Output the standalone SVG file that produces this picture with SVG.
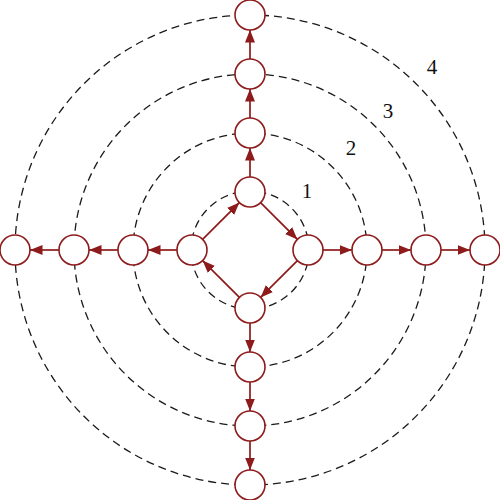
<svg xmlns="http://www.w3.org/2000/svg" width="500" height="500" viewBox="0 0 500 500">
<style>
.ring{fill:none;stroke:#1a1a1a;stroke-width:1.3;stroke-dasharray:8,5}
.node{fill:#fff;stroke:#8e1b1b;stroke-width:1.6}
.edge{stroke:#8e1b1b;stroke-width:1.7;fill:none;marker-end:url(#ah)}
.lbl{font-family:"Liberation Serif",serif;font-size:21px;fill:#111;text-anchor:middle}
</style>
<defs>
<marker id="ah" markerUnits="userSpaceOnUse" markerWidth="13" markerHeight="10" refX="12.5" refY="5" orient="auto">
<path d="M0,0 L12.5,5 L0,10 z" fill="#8e1b1b"/>
</marker>
</defs>
<rect width="500" height="500" fill="#fff"/>
<g id="rings">
<circle class="ring" cx="250" cy="250" r="59"/>
<circle class="ring" cx="250" cy="250" r="117"/>
<circle class="ring" cx="250" cy="250" r="176"/>
<circle class="ring" cx="250" cy="250" r="235"/>
</g>
<g id="connectors">
<line class="edge" x1="260.6" y1="202.6" x2="297.4" y2="239.4"/>
<line class="edge" x1="297.4" y1="260.6" x2="260.6" y2="297.4"/>
<line class="edge" x1="239.4" y1="297.4" x2="202.6" y2="260.6"/>
<line class="edge" x1="202.6" y1="239.4" x2="239.4" y2="202.6"/>
<line class="edge" x1="250" y1="177" x2="250" y2="148"/>
<line class="edge" x1="250" y1="118" x2="250" y2="89"/>
<line class="edge" x1="250" y1="59" x2="250" y2="30"/>
<line class="edge" x1="250" y1="323" x2="250" y2="352"/>
<line class="edge" x1="250" y1="382" x2="250" y2="411"/>
<line class="edge" x1="250" y1="441" x2="250" y2="470"/>
<line class="edge" x1="177" y1="250" x2="148" y2="250"/>
<line class="edge" x1="118" y1="250" x2="89" y2="250"/>
<line class="edge" x1="59" y1="250" x2="30" y2="250"/>
<line class="edge" x1="323" y1="250" x2="352" y2="250"/>
<line class="edge" x1="382" y1="250" x2="411" y2="250"/>
<line class="edge" x1="441" y1="250" x2="470" y2="250"/>
</g>
<g id="n_t1"><circle class="node" cx="250" cy="192" r="15"/></g>
<g id="n_t2"><circle class="node" cx="250" cy="133" r="15"/></g>
<g id="n_t3"><circle class="node" cx="250" cy="74" r="15"/></g>
<g id="n_t4"><circle class="node" cx="250" cy="15" r="15"/></g>
<g id="n_b1"><circle class="node" cx="250" cy="308" r="15"/></g>
<g id="n_b2"><circle class="node" cx="250" cy="367" r="15"/></g>
<g id="n_b3"><circle class="node" cx="250" cy="426" r="15"/></g>
<g id="n_b4"><circle class="node" cx="250" cy="485" r="15"/></g>
<g id="n_l1"><circle class="node" cx="192" cy="250" r="15"/></g>
<g id="n_l2"><circle class="node" cx="133" cy="250" r="15"/></g>
<g id="n_l3"><circle class="node" cx="74" cy="250" r="15"/></g>
<g id="n_l4"><circle class="node" cx="15" cy="250" r="15"/></g>
<g id="n_r1"><circle class="node" cx="308" cy="250" r="15"/></g>
<g id="n_r2"><circle class="node" cx="367" cy="250" r="15"/></g>
<g id="n_r3"><circle class="node" cx="426" cy="250" r="15"/></g>
<g id="n_r4"><circle class="node" cx="485" cy="250" r="15"/></g>
<g id="labels">
<text class="lbl" x="307" y="198">1</text>
<text class="lbl" x="351" y="155">2</text>
<text class="lbl" x="388" y="118">3</text>
<text class="lbl" x="432" y="74">4</text>
</g>
</svg>
